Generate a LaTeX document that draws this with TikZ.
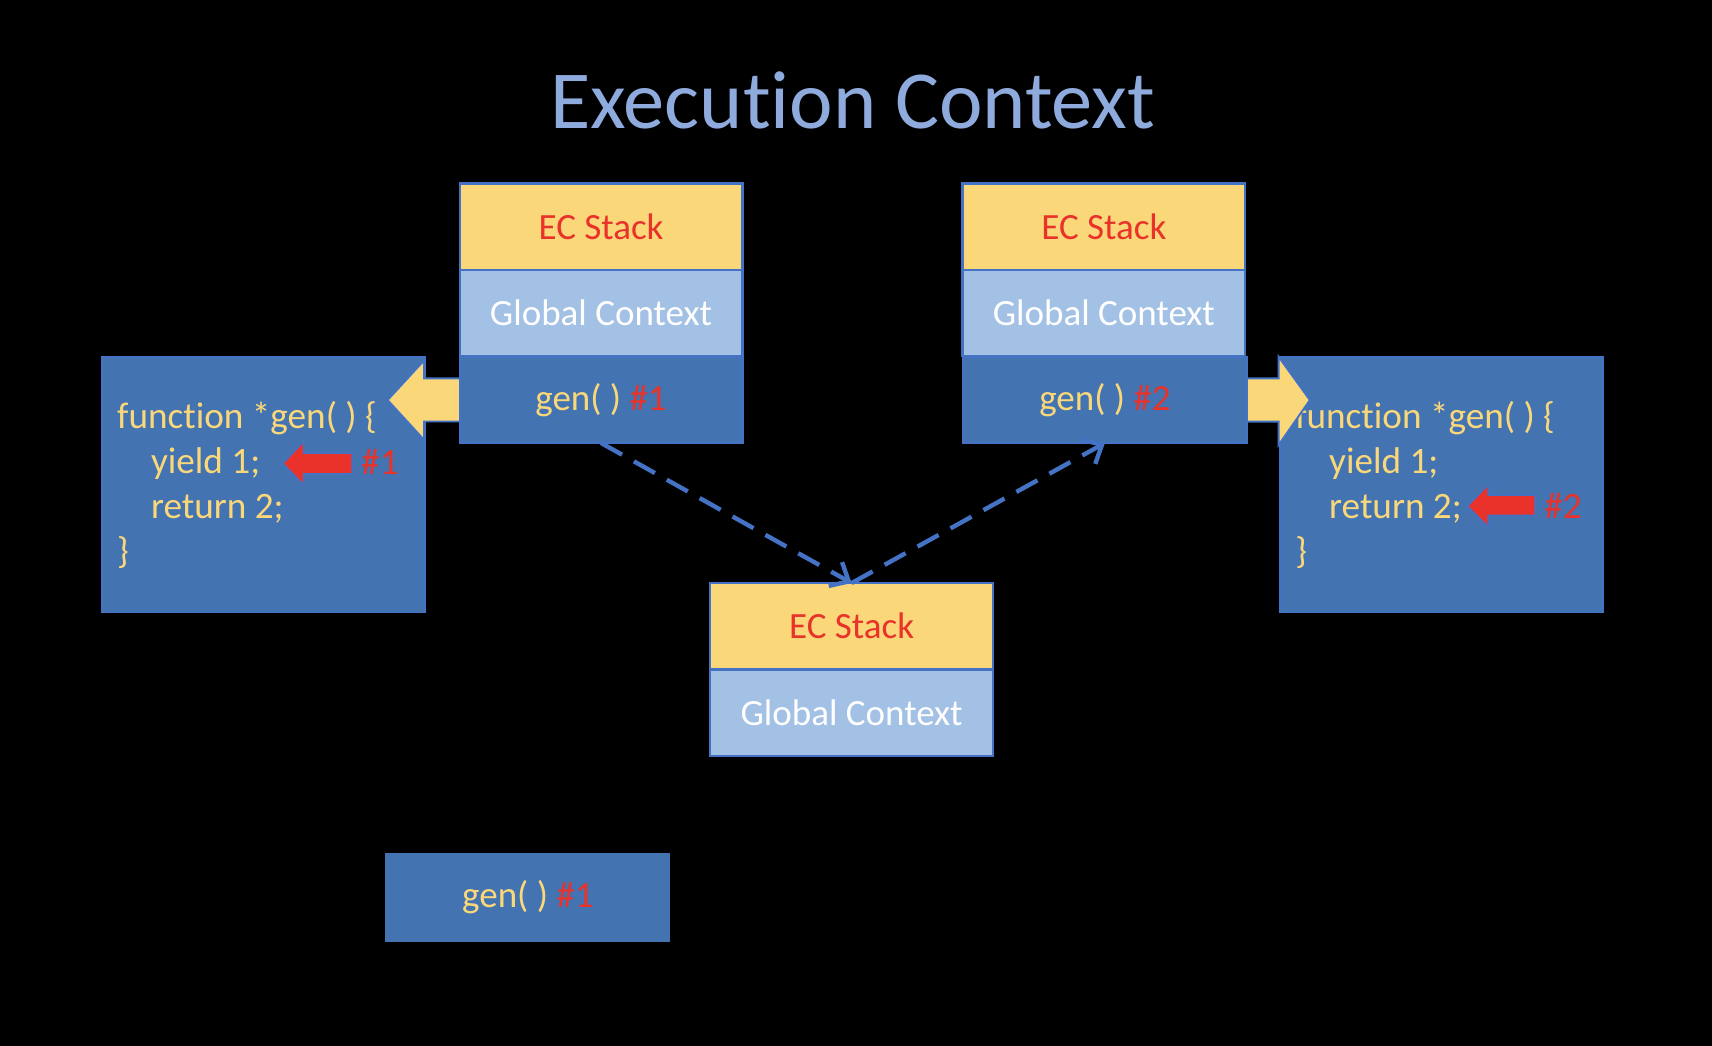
\documentclass[tikz,border=0pt]{standalone}
\usepackage{fontspec}
\setmainfont{Carlito}[Ligatures=NoCommon]
\usetikzlibrary{arrows.meta}
\definecolor{ecyellow}{HTML}{FAD87A}
\definecolor{eclight}{HTML}{A3C1E5}
\definecolor{ecdark}{HTML}{4373B1}
\definecolor{ecborder}{HTML}{4472C4}
\definecolor{ecred}{HTML}{E8322A}
\definecolor{ectitle}{HTML}{8FAADC}
\begin{document}
\begin{tikzpicture}[x=0.02cm,y=-0.02cm,
 row/.style={draw=ecborder, line width=1.2pt, minimum width=5.18cm, minimum height=1.58cm, inner sep=0pt, outer sep=0pt, font=\fontsize{19.3}{23}\selectfont},
 ecrow/.style={row, fill=ecyellow, text=ecred},
 globrow/.style={row, fill=eclight, text=white},
 genrow/.style={row, fill=ecdark, text=ecyellow},
 codebox/.style={draw=ecborder, line width=1pt, fill=ecdark, minimum width=5.92cm, minimum height=4.68cm, inner sep=0pt, outer sep=0pt},
 codeline/.style={anchor=base west, inner sep=0pt, text=ecyellow, font=\fontsize{19.4}{23}\selectfont},
 tag/.style={anchor=base west, inner sep=0pt, text=ecred, font=\fontsize{19.4}{23}\selectfont},
 bigarrow/.style={fill=ecyellow, draw=ecborder, line width=1pt, line join=miter},
 ptr/.style={fill=ecred, draw=ecborder, line width=0.8pt, line join=miter},
 link/.style={draw=ecborder, line width=2.3pt, dash pattern=on 0.44cm off 0.25cm, -{Straight Barb[length=0.28cm,width=0.5cm]}}
]
\fill[black] (0,0) rectangle (1568,958);
\useasboundingbox (0,0) rectangle (1568,958);

% title
\node[text=ectitle, font=\fontsize{43}{50}\selectfont, anchor=base, inner sep=0pt] (title) at (781,118) {Execution Context};

% code boxes
\node[codebox] (codeL) at (241,444) {};
\node[codebox] (codeR) at (1320,444) {};

\node[codeline] (L1) at (107,392) {function *gen( ) \{};
\node[codeline] (L2) at (138,433.5) {yield 1;};
\node[codeline] (L3) at (138,475) {return 2;};
\node[codeline] (L4) at (107,516) {\}};

\node[codeline] (R1) at (1186,392) {function *gen( ) \{};
\node[codeline] (R2) at (1217,433.5) {yield 1;};
\node[codeline] (R3) at (1217,475) {return 2;};
\node[codeline] (R4) at (1186,516) {\}};

% yellow block arrows
\draw[bigarrow] (425,346.5) -- (388.5,346.5) -- (388.5,330) -- (355,366.4) -- (388.5,403) -- (388.5,386) -- (425,386) -- cycle;
\draw[bigarrow] (1138,346.5) -- (1171,346.5) -- (1171,326.7) -- (1199.7,366.4) -- (1171,407.6) -- (1171,386.2) -- (1138,386.2) -- cycle;

% left stack
\node[ecrow] (ecA) at (550.5,207.5) {EC Stack};
\node[globrow] (glA) at (550.5,286.8) {Global Context};
\node[genrow] (genA) at (550.5,366.2) {gen( ) \textcolor{ecred}{\#1}};

% right stack
\node[ecrow] (ecB) at (1011,207.5) {EC Stack};
\node[globrow] (glB) at (1011,286.8) {Global Context};
\node[genrow, minimum width=5.2cm] (genB) at (1012,366.2) {gen( ) \textcolor{ecred}{\#2}};

% middle stack
\node[ecrow] (ecC) at (780,573.5) {EC Stack};
\node[globrow] (glC) at (780,652.8) {Global Context};

% bottom box
\node[genrow, draw=ecdark] (genD) at (483.5,822) {gen( ) \textcolor{ecred}{\#1}};

% red pointer arrows
\draw[ptr] (322.6,415) -- (278,415) -- (278,404.5) -- (259,424.5) -- (278,444) -- (278,434) -- (322.6,434) -- cycle;
\node[tag] (tag1) at (330.5,434.5) {\#1};
\draw[ptr] (1406,453.5) -- (1363,453.5) -- (1363,444) -- (1344,463.5) -- (1363,482.5) -- (1363,472) -- (1406,472) -- cycle;
\node[tag] (tag2) at (1414,475) {\#2};

% dashed links
\draw[link] (genA.south) -- (ecC.north);
\draw[link] (ecC.north) -- (genB.south);
\end{tikzpicture}
\end{document}
